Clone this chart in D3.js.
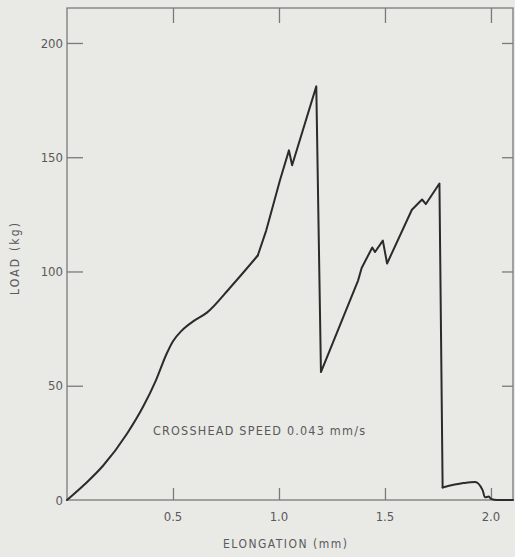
<!DOCTYPE html>
<html>
<head>
<meta charset="utf-8">
<script src="https://cdn.jsdelivr.net/npm/d3@7"></script>
<style>
  html, body { margin: 0; padding: 0; background: #e9e9e6; }
  svg { display: block; }
  text { font-family: "DejaVu Sans Condensed", "Liberation Sans Narrow", "DejaVu Sans", sans-serif; fill: #5a5a5a; }
</style>
</head>
<body>
<script>
// Load–elongation record of a tensile test
const elongation = [0, 0.085, 0.17, 0.283, 0.36, 0.42, 0.47, 0.50, 0.54, 0.60, 0.66, 0.77, 0.90,
  0.94, 1.005, 1.047, 1.062, 1.176, 1.198, 1.373, 1.39, 1.44, 1.453, 1.49, 1.51, 1.627, 1.675,
  1.693, 1.757, 1.772, 1.87, 1.925, 1.96, 1.972, 1.99, 2.0, 2.03, 2.104];
const load = [0, 7, 15, 29, 41, 52.5, 64, 69.5, 74, 78.5, 82, 93, 107,
  118, 140, 153, 146.5, 181, 56, 96, 101.5, 110.5, 108.5, 113.5, 103.5, 127, 131.5,
  129.5, 138.5, 5.5, 7.4, 7.9, 4.4, 1.2, 1.5, 0.5, 0, 0];
const xTicks = [0.5, 1.0, 1.5, 2.0];
const yTicks = [0, 50, 100, 150, 200];
const xTickLabels = ["0.5", "1.0", "1.5", "2.0"];
const xTitle = "ELONGATION (mm)";
const yTitle = "LOAD (kg)";
const note = "CROSSHEAD SPEED 0.043 mm/s";

const W = 515, H = 557;
const plotLeft = 67, plotRight = 513, plotTop = 8, plotBottom = 500;

const x = d3.scaleLinear().domain([0, 2.104]).range([plotLeft, plotRight]);
const y = d3.scaleLinear().domain([0, 215.3]).range([plotBottom, plotTop]);

const svg = d3.select("body").append("svg").attr("width", W).attr("height", H);

// frame
svg.append("rect")
  .attr("x", plotLeft).attr("y", plotTop)
  .attr("width", plotRight - plotLeft).attr("height", plotBottom - plotTop)
  .attr("fill", "none").attr("stroke", "#7a7a7a").attr("stroke-width", 1.3);

// inward ticks on all four sides
const tickStyle = g => g.call(s => s.select(".domain").remove())
  .call(s => s.selectAll("line").attr("stroke", "#7a7a7a").attr("stroke-width", 1.3));

svg.append("g").attr("transform", `translate(0,${plotBottom})`)
  .call(d3.axisTop(x).tickValues(xTicks).tickSize(12).tickFormat(""))
  .call(tickStyle);
svg.append("g").attr("transform", `translate(0,${plotTop})`)
  .call(d3.axisBottom(x).tickValues(xTicks).tickSize(15).tickFormat(""))
  .call(tickStyle);
svg.append("g").attr("transform", `translate(${plotLeft},0)`)
  .call(d3.axisRight(y).tickValues(yTicks.filter(v => v > 0)).tickSize(16).tickFormat(""))
  .call(tickStyle);
svg.append("g").attr("transform", `translate(${plotRight},0)`)
  .call(d3.axisLeft(y).tickValues(yTicks.filter(v => v > 0)).tickSize(11).tickFormat(""))
  .call(tickStyle);

// tick labels
svg.append("g").selectAll("text").data(yTicks).join("text")
  .attr("x", plotLeft - 4).attr("y", d => y(d))
  .attr("dy", "0.35em").attr("text-anchor", "end")
  .attr("font-size", 13).text(d => d);
svg.append("g").selectAll("text").data(xTicks).join("text")
  .attr("x", d => x(d)).attr("y", plotBottom + 21)
  .attr("text-anchor", "middle").attr("font-size", 13)
  .text((d, i) => xTickLabels[i]);

// axis titles
svg.append("text")
  .attr("x", 223).attr("y", 548)
  .attr("font-size", 12).attr("textLength", 124)
  .text(xTitle);
svg.append("text")
  .attr("transform", `translate(19,295) rotate(-90)`)
  .attr("font-size", 12).attr("textLength", 72)
  .text(yTitle);

// annotation
svg.append("text")
  .attr("x", 153).attr("y", 435)
  .attr("font-size", 12.5).attr("textLength", 212)
  .text(note);

// curve: smooth elastic rise, sharp serrated fracture section, smooth tail
const pts = elongation.map((e, i) => [e, load[i]]);
const segments = [
  { from: 0, to: 12, curve: d3.curveMonotoneX },
  { from: 12, to: 29, curve: d3.curveLinear },
  { from: 29, to: pts.length - 1, curve: d3.curveMonotoneX }
];
segments.forEach(s => {
  svg.append("path")
    .datum(pts.slice(s.from, s.to + 1))
    .attr("fill", "none")
    .attr("stroke", "#2b2b2b")
    .attr("stroke-width", 2)
    .attr("stroke-linejoin", "round")
    .attr("stroke-linecap", "round")
    .attr("d", d3.line().curve(s.curve).x(d => x(d[0])).y(d => y(d[1])));
});
</script>
</body>
</html>
